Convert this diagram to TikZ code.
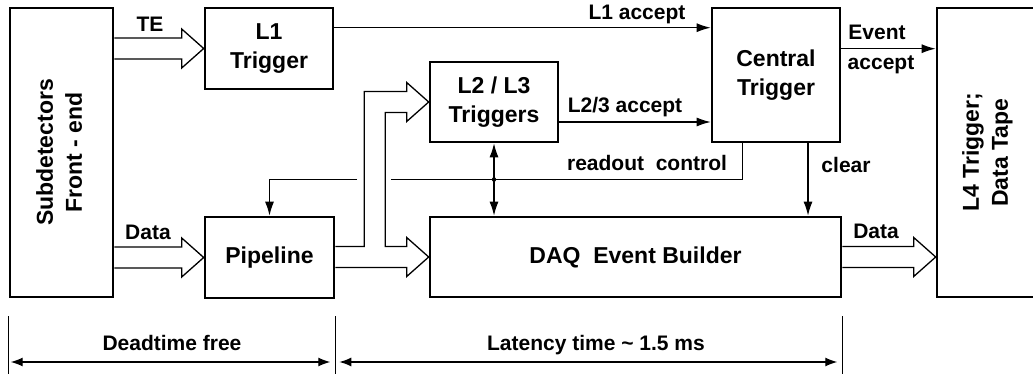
\documentclass[tikz,border=0pt]{standalone}
\usepackage{fontspec}
\setmainfont{Liberation Sans}
\usepackage{graphicx}
\usetikzlibrary{arrows.meta,calc}
\newcommand{\hollowarr}[2]{%
  \draw[conn] let \p1=(#1), \p2=(#2) in
    (\x1,\y2+10.5pt) -- (\x2-22pt,\y2+10.5pt) -- (\x2-22pt,\y2+19.5pt) -- (\p2)
    -- (\x2-22pt,\y2-19.5pt) -- (\x2-22pt,\y2-10.5pt) -- (\x1,\y2-10.5pt);}
\begin{document}
\begin{tikzpicture}[x=1pt,y=-1pt,
  box/.style={draw, line width=2.6pt, inner sep=0pt, align=center,
              font=\fontsize{23}{29}\selectfont\bfseries},
  conn/.style={line width=1.3pt},
  lbl/.style={font=\fontsize{21}{25}\selectfont\bfseries, inner sep=0pt, anchor=base},
  tip/.style={-{Latex[length=14pt,width=9pt]}},
  dtip/.style={{Latex[length=12pt,width=9pt]}-{Latex[length=12pt,width=9pt]}},
]
\useasboundingbox (0,0) rectangle (1033,374);
\fill[white] (0,0) rectangle (1033,374);

% boxes
\node[box, minimum width=103pt, minimum height=289pt] (sub) at (61.5,152.5)
  {\rotatebox{90}{\begin{tabular}{@{}c@{}}Subdetectors\\Front - end\end{tabular}}};
\node[box, minimum width=128pt, minimum height=81pt] (l1) at (269,48.5) {L1\\Trigger};
\node[box, minimum width=128pt, minimum height=80pt] (l23) at (494,102) {L2 / L3\\Triggers};
\node[box, minimum width=128pt, minimum height=134pt] (ct) at (776,75) {Central\\Trigger};
\node[box, minimum width=101pt, minimum height=289pt] (l4) at (987.5,152.5)
  {\rotatebox{90}{\begin{tabular}{@{}c@{}}L4 Trigger;\\Data Tape\end{tabular}}};
\node[box, minimum width=129pt, minimum height=81pt] (pipe) at (269.5,257.5) {Pipeline};
\node[box, minimum width=411pt, minimum height=80pt] (daq) at (635.5,257) {DAQ\ \ Event Builder};

% hollow (bus) arrows
\hollowarr{sub.east}{l1.west}
\hollowarr{sub.east}{pipe.west}
\hollowarr{daq.east}{l4.west |- daq.east}

% pipeline split to DAQ and L2/L3
\draw[conn] let \p1=(pipe.east), \p2=(daq.west), \p3=(l23.west) in
  (\x1,\y2-10.5pt) -- (\x2-22pt,\y2-10.5pt) -- (\x2-22pt,\y2-19.5pt) -- (\p2)
  -- (\x2-22pt,\y2+19.5pt) -- (\x2-22pt,\y2+10.5pt) -- (\x1+50pt,\y2+10.5pt)
  -- (\x1+50pt,\y3-10.5pt) -- (\x2-22pt,\y3-10.5pt) -- (\x2-22pt,\y3-19.5pt) -- (\p3)
  -- (\x2-22pt,\y3+19.5pt) -- (\x2-22pt,\y3+10.5pt) -- (\x1+29pt,\y3+10.5pt)
  -- (\x1+29pt,\y2+10.5pt) -- (\x1,\y2+10.5pt);

% accept lines
\coordinate (l1a) at ($(l1.north east)+(0,21)$);
\draw[conn,tip] (l1a) -- (l1a -| ct.west);
\coordinate (l23a) at ($(l23.east)+(0,20)$);
\draw[conn,tip] (l23a) -- (l23a -| ct.west);
\coordinate (eva) at ($(ct.north east)+(0,42)$);
\draw[conn,tip] (eva) -- (eva -| l4.west);

% readout control
\coordinate (rc) at ($(ct.south west)+(32,0)$);
\coordinate (rcy) at (0,179.5);
\coordinate (gapR) at (391,179.5);
\coordinate (gapL) at (357,179.5);
\draw[conn] (rc) |- (gapR);
\draw[conn,tip] (gapL) -| (pipe.north);

% L2/L3 <-> DAQ
\draw[conn,{Latex[length=14pt,width=9pt]}-{Latex[length=14pt,width=9pt]}] (l23.south) -- (l23.south |- daq.north);
\fill (l23.south |- rcy) circle (2.2pt);

% clear
\coordinate (clr) at ($(ct.south)+(32,0)$);
\draw[conn,tip] (clr) -- (clr |- daq.north);

% labels
\node[lbl] (teL) at (150,32) {TE};
\node[lbl] (dataL) at (148,239) {Data};
\node[lbl] (l1aL) at (637,19.5) {L1 accept};
\node[lbl] (l23aL) at (625,113) {L2/3 accept};
\node[lbl] (evL) at (877,40) {Event};
\node[lbl] (accL) at (881,70) {accept};
\node[lbl] (rcL) at (647,171) {readout\ \ control};
\node[lbl] (clrL) at (846,173) {clear};
\node[lbl] (data2L) at (876,238) {Data};

% time scale
\coordinate (d0) at (sub.south west |- 0,316);
\coordinate (d1) at (pipe.south east |- 0,316);
\coordinate (d2) at (daq.south east |- 0,316);
\draw[conn] (d0) -- ++(0,70);
\draw[conn] (d1) -- ++(0,70);
\draw[conn] (d2) -- ++(0,70);
\draw[conn,dtip] ($(d0)+(2,46)$) -- ($(d1)+(-5,46)$);
\draw[conn,dtip] ($(d1)+(4,46)$) -- ($(d2)+(-5,46)$);
\node[lbl] (dtL) at (172,350) {Deadtime free};
\node[lbl] (latL) at (596,350) {Latency time \textasciitilde\ 1.5 ms};
\end{tikzpicture}
\end{document}
